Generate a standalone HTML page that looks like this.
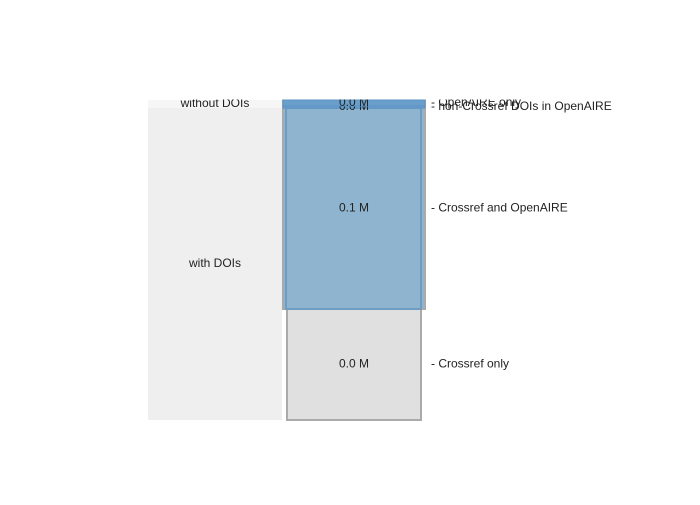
<!DOCTYPE html>
<html><head><meta charset="utf-8"><style>
body{margin:0;background:#fff;font-family:"Liberation Sans",Arial,sans-serif}
svg text{font-family:"Liberation Sans",Arial,sans-serif;font-size:12px;fill:#222}
</style></head><body>
<svg id="chart" width="700" height="500" viewBox="0 0 700 500">
<defs><clipPath id="clip"><rect x="0" y="99.5" width="700" height="330"/></clipPath></defs>
<g id="plot" clip-path="url(#clip)"></g>
</svg>
<script>
const leftCats = ["with DOIs","without DOIs"];
const leftVals = [312, 8];
const rightCats = ["Crossref only","Crossref and OpenAIRE","non-Crossref DOIs in OpenAIRE","OpenAIRE only"];
const rightVals = [111, 201, 2, 6];
const rightLabels = ["0.0 M","0.1 M","0.0 M","0.0 M"];

const NS="http://www.w3.org/2000/svg";
const g=document.getElementById('plot');
const y0=420, total=320, H=320;
function y(v){return y0 - v/total*H;}
function mk(tag,attrs){const e=document.createElementNS(NS,tag);for(const k in attrs)e.setAttribute(k,attrs[k]);g.appendChild(e);return e;}
let acc=0;
leftCats.forEach((c,i)=>{
  const top=y(acc+leftVals[i]), bot=y(acc);
  const r=mk('rect',{x:148,y:top,width:134,height:bot-top,fill:i==0?'#efefef':'#f6f6f6'});
  
  
  const t=mk('text',{x:215,y:(top+bot)/2+3,'text-anchor':'middle'});t.textContent=c;
  
  
  acc+=leftVals[i];
});
const gTop=y(rightVals[0]+rightVals[1]+rightVals[2]+rightVals[3]), gBot=y(rightVals[0]);
const ob=mk('rect',{x:283,y:gTop,width:142,height:gBot-gTop,fill:'#8fb4cf',stroke:'#aaa','stroke-width':2});


acc=0;
rightCats.forEach((c,i)=>{
  const top=y(acc+rightVals[i]), bot=y(acc);
  let r;
  if(i==0) r=mk('rect',{x:287,y:top,width:134,height:bot-top,fill:'#e0e0e0',stroke:'#aaa','stroke-width':2});
  else if(i==1) r=mk('rect',{x:286,y:top,width:135,height:bot-top,fill:'#8fb4cf',stroke:'#6f9dc2','stroke-width':2});
  else r=mk('rect',{x:283,y:top,width:142,height:bot-top,fill:'#6a9fcb',stroke:'#5b93c4','stroke-width':1});
  
  
  const t=mk('text',{x:354,y:(top+bot)/2+3,'text-anchor':'middle'});t.textContent=rightLabels[i];
  
  
  const l=mk('text',{x:431,y:(top+bot)/2+3});l.textContent='- '+c;
  
  
  acc+=rightVals[i];
});
</script>
</body></html>
